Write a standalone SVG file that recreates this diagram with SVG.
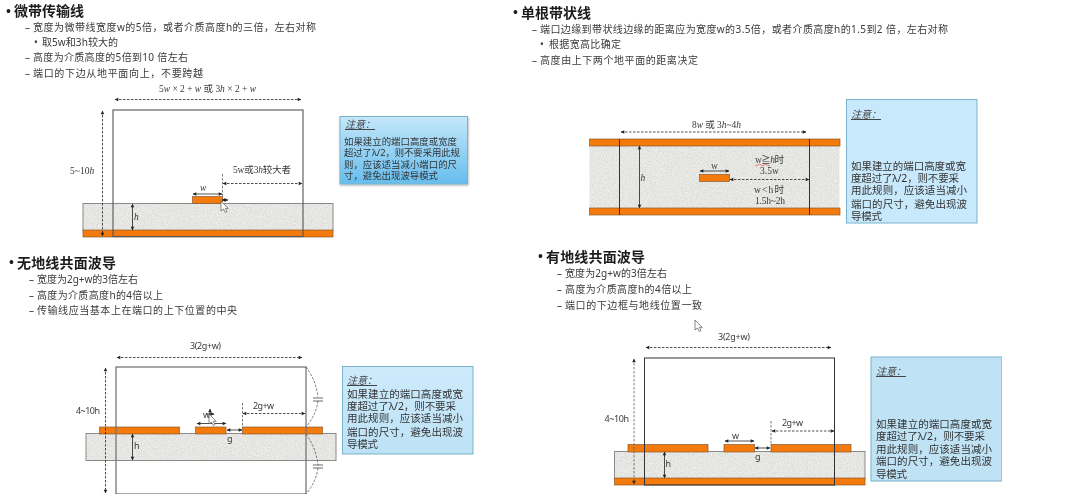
<svg xmlns="http://www.w3.org/2000/svg" width="1080" height="502" viewBox="0 0 1080 502">
<style>
text{font-family:"Noto Sans","Noto Sans CJK SC",sans-serif;fill:#3a3a3a;font-size:10px}
.title{font-family:"Liberation Serif","Noto Sans CJK SC",serif;font-size:14px;font-weight:700;fill:#1c1c1c}
.serif{font-family:"Liberation Serif","Noto Sans CJK SC",serif;font-size:9.5px}
.it{font-style:italic}
.lab{font-size:9px}
.note{font-size:10.5px;fill:#333}
.note1{font-size:9.4px;fill:#333}
.nh{font-size:10px;font-style:italic;text-decoration:underline;fill:#444}
.diel{fill:#e6e6e4;filter:url(#grain)}
.edge{fill:none;stroke:#8a8a8a;stroke-width:1}
.cu{fill:#f57a08;stroke:#8c5a30;stroke-width:.7}
.port{fill:none;stroke:#555;stroke-width:1.1}
.port2{fill:none;stroke:#333;stroke-width:1}
.dim{fill:none;stroke:#222;stroke-width:.8;marker-start:url(#ah);marker-end:url(#ah)}
.dash{stroke-dasharray:2.5 1.5}
.ln{fill:none;stroke:#444;stroke-width:.8}
.ldash{fill:none;stroke:#555;stroke-width:.8;stroke-dasharray:2.5 1.5}
.cur{fill:#fff;stroke:#555;stroke-width:.7}
.nb{stroke:#79b4cc;stroke-width:1}
</style>
<defs>
<marker id="ah" viewBox="0 0 6 6" refX="5.5" refY="3" markerWidth="4.5" markerHeight="4.5" markerUnits="strokeWidth" orient="auto-start-reverse" style="overflow:visible"><path d="M0 0L6 3L0 6z" fill="#222"/></marker>
<filter id="grain" x="0" y="0" width="1" height="1" color-interpolation-filters="sRGB">
<feTurbulence type="fractalNoise" baseFrequency="0.8" numOctaves="2" seed="4"/>
<feColorMatrix values="0.16 0 0 0 0.82 0.16 0 0 0 0.82 0.16 0 0 0 0.81 0 0 0 0 1"/>
<feComposite in2="SourceAlpha" operator="in"/>
</filter>
<filter id="soft" x="0" y="0" width="1" height="1"><feGaussianBlur stdDeviation="0.35"/></filter>
<filter id="sh" x="-5%" y="-5%" width="110%" height="112%"><feDropShadow dx="0.5" dy="1" stdDeviation="1" flood-opacity=".3"/></filter>
<linearGradient id="g1" x1="0" y1="0" x2="0" y2="1"><stop offset="0" stop-color="#c4e7f9"/><stop offset="1" stop-color="#66bdee"/></linearGradient>
<linearGradient id="g3" x1="0" y1="0" x2="0" y2="1"><stop offset="0" stop-color="#cdeafb"/><stop offset="1" stop-color="#bde2f6"/></linearGradient>
<path id="cursor" d="M0 0V10L2.5 8L4.2 11.5L6 10.6L4.3 7.4H7.2z"/>
</defs>
<rect width="1080" height="502" fill="#fff"/>
<g filter="url(#soft)">

<g id="microstrip">
<text class="title" x="6" y="16">•</text><text class="title" x="14" y="16" textLength="70">微带传输线</text>
<text x="25" y="31">–<tspan x="33" textLength="283">宽度为微带线宽度w的5倍，或者介质高度h的三倍，左右对称</tspan></text>
<text x="34" y="46">•<tspan x="42" textLength="76">取5w和3h较大的</tspan></text>
<text x="25" y="61">–<tspan x="33" textLength="155">高度为介质高度的5倍到10 倍左右</tspan></text>
<text x="25" y="77">–<tspan x="33" textLength="170">端口的下边从地平面向上，不要跨越</tspan></text>
<rect class="diel" x="83" y="203.5" width="250" height="27"/><rect class="edge" x="83" y="203.5" width="250" height="27"/>
<rect class="cu" x="83" y="230" width="250" height="7"/>
<rect class="cu" x="192.5" y="196.5" width="30" height="7"/>
<rect class="port" x="113" y="110" width="190" height="126.5"/>
<path class="dim dash" d="M115 99.5H301"/>
<path class="dim dash" d="M102.5 111V236"/>
<path class="dim" d="M132.5 204V230"/>
<path class="dim" d="M193 194H222"/>
<path class="ldash" d="M222.5 174V197"/>
<path class="dim dash" d="M223 183.5H302"/>
<path class="dim" d="M222 200H228"/>
<text class="serif" x="159" y="92" textLength="97">5<tspan class="it">w</tspan> × 2 + <tspan class="it">w</tspan> 或 3<tspan class="it">h</tspan> × 2 + <tspan class="it">w</tspan></text>
<text class="serif" x="70" y="174">5~10<tspan class="it">h</tspan></text>
<text class="serif it" x="134" y="220">h</text>
<text class="serif it" x="200" y="191">w</text>
<text class="serif" x="233" y="173" textLength="58">5w或3<tspan class="it">h</tspan>较大者</text>
<use href="#cursor" class="cur" x="221" y="201"/>
</g>
<g id="microstrip-note">
<rect x="340" y="116.5" width="127.5" height="67.5" fill="url(#g1)" class="nb" filter="url(#sh)"/>
<text class="nh" x="345" y="128">注意：</text>
<text class="note1" x="344" y="144.5" textLength="113">如果建立的端口高度或宽度</text>
<text class="note1" x="344" y="156" textLength="116">超过了λ/2，则不要采用此规</text>
<text class="note1" x="344" y="167.5" textLength="113">则，应该适当减小端口的尺</text>
<text class="note1" x="344" y="179" textLength="94">寸，避免出现波导模式</text>
</g>

<g id="stripline">
<text class="title" x="513" y="17">•</text><text class="title" x="521" y="18" textLength="70">单根带状线</text>
<text x="532" y="33">–<tspan x="540" textLength="408">端口边缘到带状线边缘的距离应为宽度w的3.5倍，或者介质高度h的1.5到2 倍，左右对称</tspan></text>
<text x="540" y="48">•<tspan x="549" textLength="72">根据宽高比确定</tspan></text>
<text x="532" y="64">–<tspan x="540" textLength="158">高度由上下两个地平面的距离决定</tspan></text>
<rect class="diel" x="589.5" y="146" width="250" height="62"/>
<rect class="cu" x="589.5" y="139" width="250.5" height="7"/>
<rect class="cu" x="589.5" y="208" width="250.5" height="7"/>
<rect class="cu" x="699.5" y="174.5" width="30" height="7"/>
<path class="port2" d="M619.5 139V215M809.5 139V215"/>
<path class="dim dash" d="M621 132H806"/>
<path class="dim" d="M639.5 146V208"/>
<path class="dim" d="M700 171H729"/>
<path class="dim dash" d="M730 179.5H809"/>
<text class="serif" x="692" y="128" textLength="49">8<tspan class="it">w</tspan> 或 3<tspan class="it">h</tspan>~4<tspan class="it">h</tspan></text>
<text class="serif it" x="640.5" y="181">h</text>
<text class="serif" x="711" y="169">w</text>
<text class="serif" x="755" y="163" textLength="29">w≧<tspan class="it">h</tspan>时</text>
<path d="M755 165q1.5 1.5 3 0t3 0t3 0t3 0t3 0" fill="none" stroke="#d33" stroke-width=".6"/>
<text class="serif" x="760" y="174">3.5w</text>
<text class="serif" x="754" y="193" textLength="30">w&lt;h时</text>
<text class="serif" x="755" y="204" textLength="30">1.5h~2h</text>
</g>
<g id="stripline-note">
<rect x="846.5" y="99.5" width="130.5" height="123.5" fill="#c8e9fb" class="nb"/>
<text class="nh" x="851" y="118">注意：</text>
<text class="note" x="851" y="170" textLength="115">如果建立的端口高度或宽</text>
<text class="note" x="851" y="182" textLength="108">度超过了λ/2，则不要采</text>
<text class="note" x="851" y="194" textLength="116">用此规则，应该适当减小</text>
<text class="note" x="851" y="208" textLength="116">端口的尺寸，避免出现波</text>
<text class="note" x="851" y="220" textLength="31">导模式</text>
</g>

<g id="cpw">
<text class="title" x="9" y="267">•</text><text class="title" x="17" y="268" textLength="99">无地线共面波导</text>
<text x="29" y="283">–<tspan x="37" textLength="101">宽度为2g+w的3倍左右</tspan></text>
<text x="29" y="299">–<tspan x="37" textLength="126">高度为介质高度h的4倍以上</tspan></text>
<text x="29" y="314">–<tspan x="37" textLength="200">传输线应当基本上在端口的上下位置的中央</tspan></text>
<rect class="diel" x="86" y="433.5" width="250" height="27"/><rect class="edge" x="86" y="433.5" width="250" height="27"/>
<rect class="cu" x="99.5" y="427" width="80" height="7"/>
<rect class="cu" x="195.5" y="427" width="30.5" height="7"/>
<rect class="cu" x="242.5" y="427" width="80" height="7"/>
<rect fill="none" stroke="#777" stroke-width="1.3" x="116" y="367" width="190" height="127"/>
<path class="dim dash" d="M117 357.5H302"/>
<path class="dim dash" d="M105.5 368V493"/>
<path class="dim" d="M132.5 434V460"/>
<path class="dim" d="M197 423.5H226"/>
<path class="dim" d="M227 430H242"/>
<path class="ldash" d="M242.5 403V427"/>
<path class="dim dash" d="M243 413.5H305"/>
<path class="ldash" d="M306 367Q316 380 318 397M318 401Q316 415 306 427M306 434Q316 448 318 465M318 468Q316 482 306 494"/>
<path class="ln" d="M313 398H323M313 401H323M313 465H323M313 468H323"/>
<text class="lab" x="190" y="349" textLength="31">3(2g+w)</text>
<text class="lab" x="76" y="414" textLength="24">4~10h</text>
<text class="lab" x="134" y="449">h</text>
<text class="lab" x="203" y="418">w</text>
<text class="lab" x="227" y="442">g</text>
<text class="lab" x="253" y="409" textLength="21">2g+w</text>
<path class="dim" d="M210 409V416M206 414H214"/>
<use href="#cursor" class="cur" x="209" y="414"/>
</g>
<g id="cpw-note">
<rect x="342.5" y="366.5" width="130.5" height="87.5" fill="url(#g3)" class="nb"/>
<text class="nh" x="347" y="384">注意：</text>
<text class="note" x="347" y="398" textLength="116">如果建立的端口高度或宽</text>
<text class="note" x="347" y="410" textLength="109">度超过了λ/2，则不要采</text>
<text class="note" x="347" y="422" textLength="116">用此规则，应该适当减小</text>
<text class="note" x="347" y="436" textLength="116">端口的尺寸，避免出现波</text>
<text class="note" x="347" y="448" textLength="31">导模式</text>
</g>

<g id="gcpw">
<text class="title" x="538" y="261">•</text><text class="title" x="546" y="262" textLength="99">有地线共面波导</text>
<text x="557" y="277">–<tspan x="565" textLength="102">宽度为2g+w的3倍左右</tspan></text>
<text x="557" y="293">–<tspan x="565" textLength="127">高度为介质高度h的4倍以上</tspan></text>
<text x="557" y="309">–<tspan x="565" textLength="137">端口的下边框与地线位置一致</tspan></text>
<use href="#cursor" class="cur" x="695" y="320"/>
<rect class="diel" x="614.5" y="451.5" width="250.5" height="27"/><rect class="edge" x="614.5" y="451.5" width="250.5" height="27"/>
<rect class="cu" x="614.5" y="478" width="250.5" height="7"/>
<rect class="cu" x="628" y="444.5" width="80" height="7.5"/>
<rect class="cu" x="724" y="444.5" width="30.5" height="7.5"/>
<rect class="cu" x="771" y="444.5" width="80" height="7.5"/>
<rect class="port2" x="644.5" y="358" width="190" height="127"/>
<path class="dim dash" d="M646 347.5H831"/>
<path class="dim dash" d="M634 359V484" style="stroke:#6b5a44"/>
<path class="dim" d="M664.5 452V478"/>
<path class="dim" d="M725 441H754"/>
<path class="dim" d="M755 448H770"/>
<path class="ldash" d="M771 421V444"/>
<path class="dim dash" d="M772 431H834"/>
<text class="lab" x="718" y="340" textLength="32">3(2g+w)</text>
<text class="lab" x="604.5" y="422" textLength="24.5">4~10h</text>
<text class="lab" x="665.5" y="467">h</text>
<text class="lab" x="732" y="439">w</text>
<text class="lab" x="755" y="460">g</text>
<text class="lab" x="782" y="426" textLength="21">2g+w</text>
</g>
<g id="gcpw-note">
<rect x="871" y="357" width="131" height="124" fill="#bfe2f5" class="nb"/>
<text class="nh" x="876" y="375">注意：</text>
<text class="note" x="876" y="428" textLength="116">如果建立的端口高度或宽</text>
<text class="note" x="876" y="440" textLength="109">度超过了λ/2，则不要采</text>
<text class="note" x="876" y="453" textLength="116">用此规则，应该适当减小</text>
<text class="note" x="876" y="465" textLength="116">端口的尺寸，避免出现波</text>
<text class="note" x="876" y="478" textLength="31">导模式</text>
</g>

</g>
</svg>
